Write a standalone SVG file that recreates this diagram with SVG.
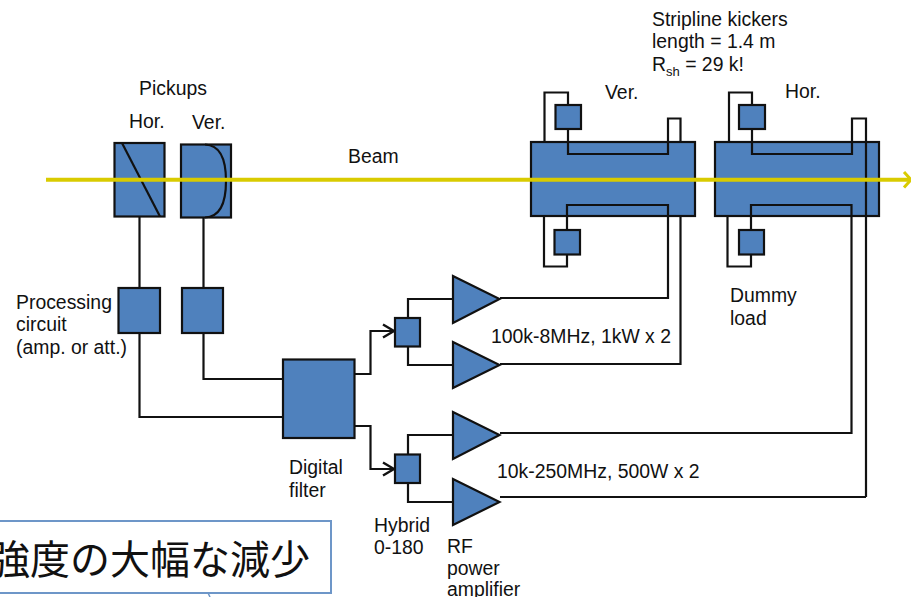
<svg xmlns="http://www.w3.org/2000/svg" width="911" height="597" viewBox="0 0 911 597">
<style>
.b{fill:#4f81bd;stroke:#111;stroke-width:2.200}
.w{fill:none;stroke:#111;stroke-width:2.200}
.t{font-family:"Liberation Sans",Arial,sans-serif;font-size:19.400px;fill:#111}
.ts{font-size:13px}
</style>
<defs>
<marker id="a" markerUnits="userSpaceOnUse" markerWidth="16" markerHeight="16" refX="13" refY="8" orient="auto"><path d="M2 1.500L13 8L2 14.500" fill="none" stroke="#111" stroke-width="2.400"/></marker>
</defs>
<g id="connectors">
<path class="w" d="M139.500 216V288M203.500 217V288M139.500 333V417H283M203.500 333V379H283"/>
<path class="w" marker-end="url(#a)" d="M354.500 374H370.500V331H394"/>
<path class="w" marker-end="url(#a)" d="M354.500 426H370.500V469H394"/>
<path class="w" d="M408 318V299H453M408 346V365H453M408 455V435H453M408 483V502H453"/>
<path class="w" d="M500 298H668V216M500 364H680.500V216M500 433H851.500V216M500 497H866"/>
<path class="w" d="M544.500 142V92.500H568V105M680.500 142V118.500H668V142M544 216V266.500H567V254.500"/>
<path class="w" d="M729 142V92.500H752V105M727.500 216V266.500H751V254.500"/>
</g>
<g id="pickup-hor"><rect class="b" x="114.500" y="143" width="50" height="73.500"/><path class="w" d="M122 143L160 216.500"/></g>
<g id="pickup-ver"><rect class="b" x="181" y="144.500" width="50" height="73"/><path class="w" d="M205 144.500C220 145 226 160 226 181C226 202 220 217 205 217.500"/></g>
<g id="proc-hor"><rect class="b" x="118.500" y="288" width="41.500" height="45"/></g>
<g id="proc-ver"><rect class="b" x="182" y="288" width="41" height="45"/></g>
<g id="digital-filter"><rect class="b" x="283" y="359.500" width="71.500" height="78.500"/></g>
<g id="hybrid-top"><rect class="b" x="395" y="318" width="25" height="28.500"/></g>
<g id="hybrid-bottom"><rect class="b" x="395" y="454.500" width="25" height="28.500"/></g>
<g id="amp-1"><path class="b" d="M453 276V323L499.500 299Z"/></g>
<g id="amp-2"><path class="b" d="M453 342V388L499.500 365Z"/></g>
<g id="amp-3"><path class="b" d="M453 412V459L499.500 435Z"/></g>
<g id="amp-4"><path class="b" d="M453 479V525L499.500 502Z"/></g>
<g id="kicker-ver">
<rect class="b" x="531" y="142" width="164" height="74"/>
<path class="w" d="M568 129V154H668V142M567 230V205H668V216"/>
<rect class="b" x="555.500" y="105" width="25.500" height="24"/>
<rect class="b" x="554.500" y="230" width="25.500" height="24.500"/>
</g>
<g id="kicker-hor">
<rect class="b" x="715" y="142" width="164" height="74"/>
<path class="w" d="M752 129V154H852V118.500H866V497M751 230V205H851.500V216"/>
<rect class="b" x="739" y="105" width="26" height="24"/>
<rect class="b" x="739" y="230" width="25" height="24.500"/>
</g>
<g id="beam">
<path d="M46 179.700H910" fill="none" stroke="#d9cb00" stroke-width="4"/>
<path d="M904 172L911 179.700L904 187.500" fill="none" stroke="#d9cb00" stroke-width="3"/>
</g>
<g id="labels">
<text class="t" x="139" y="95">Pickups</text>
<text class="t" x="129" y="128">Hor.</text>
<text class="t" x="192" y="129">Ver.</text>
<text class="t" x="348" y="163">Beam</text>
<text class="t" x="652" y="26">Stripline kickers</text>
<text class="t" x="652" y="48">length = 1.4 m</text>
<text class="t" x="652" y="71">R<tspan class="ts" dy="5">sh</tspan><tspan dy="-5"> = 29 k!</tspan></text>
<text class="t" x="605" y="99">Ver.</text>
<text class="t" x="785" y="98">Hor.</text>
<text class="t" x="730" y="302">Dummy</text>
<text class="t" x="730" y="325">load</text>
<text class="t" x="16" y="309">Processing</text>
<text class="t" x="16" y="331">circuit</text>
<text class="t" x="16" y="354">(amp. or att.)</text>
<text class="t" x="491" y="343">100k-8MHz, 1kW x 2</text>
<text class="t" x="497" y="478">10k-250MHz, 500W x 2</text>
<text class="t" x="289" y="474">Digital</text>
<text class="t" x="289" y="497">filter</text>
<text class="t" x="374" y="532">Hybrid</text>
<text class="t" x="374" y="554">0-180</text>
<text class="t" x="447" y="553">RF</text>
<text class="t" x="447" y="575">power</text>
<text class="t" x="447" y="596">amplifier</text>
</g>
<g id="callout">
<path d="M210 597L207.500 592" fill="none" stroke="#6d96c8" stroke-width="1.500"/>
<rect x="-3" y="521" width="334" height="72" fill="#fff" stroke="#6d96c8" stroke-width="2"/>
<text x="-10" y="574" font-family="'Noto Sans CJK JP','Liberation Sans',sans-serif" font-size="40" fill="#111">強度の大幅な減少</text>
</g>
</svg>
